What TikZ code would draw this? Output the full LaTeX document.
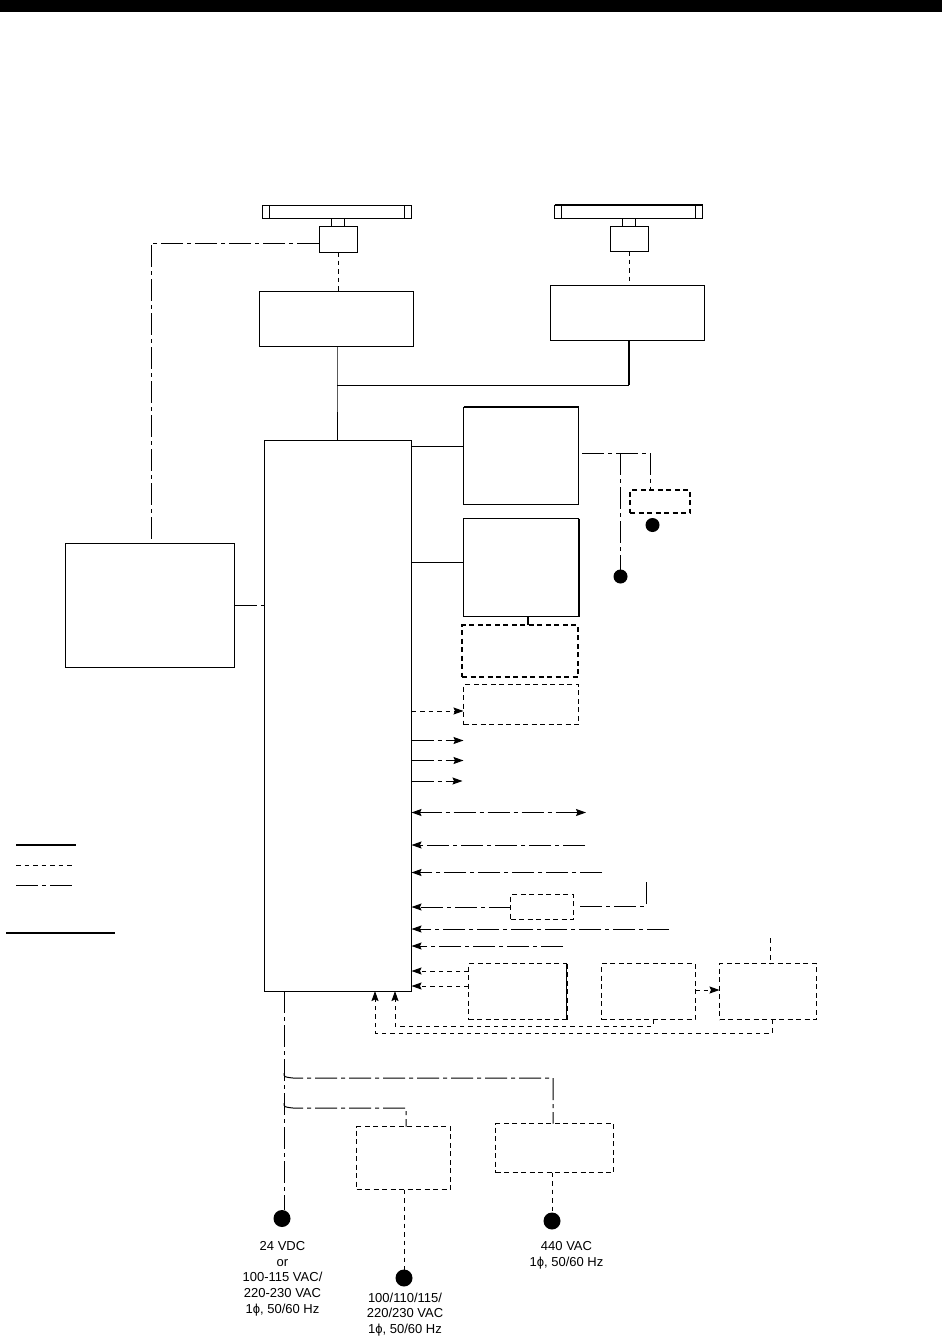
\documentclass[tikz,border=0pt]{standalone}
\usepackage{fontspec}
\setmainfont{Liberation Sans}
\usepackage{xcolor}
\usetikzlibrary{arrows.meta,calc}
\tikzset{
  solidbox/.style={draw,rectangle,line width=1pt,inner sep=0pt,outer sep=0pt},
  dashbox/.style={solidbox,dash pattern=on 5pt off 3.5pt},
  heavydash/.style={line width=2pt,dash pattern=on 5pt off 3.5pt},
  wire/.style={line width=1pt},
  dashwire/.style={line width=1pt,dash pattern=on 4.5pt off 4pt},
  chainwire/.style={line width=1pt,dash pattern=on 22pt off 4pt on 4pt off 4pt},
  tip/.style={-{Stealth[length=10pt,width=7pt,inset=1.5pt]}},
  bothtip/.style={{Stealth[length=10pt,width=7pt,inset=1.5pt]}-{Stealth[length=10pt,width=7pt,inset=1.5pt]}},
  supply/.style={circle,fill=black,inner sep=0pt,outer sep=0pt,minimum size=#1},
  rating/.style={align=center,font=\fontsize{13}{15.8}\selectfont,inner sep=0pt}
}
\begin{document}
\begin{tikzpicture}[x=1pt,y=-1pt]
  \useasboundingbox (0,0) rectangle (942,1339);
  \fill[black] (0,0) rectangle (942,12);
  % boxes in solid line
  \foreach \l/\t/\r/\b/\n in {262.5/205/411.5/218/barA,554.5/205/702.5/218/barB,
      319/226/357/252/headA,610/226/648/251/headB,259.5/291.5/413.5/346.5/rfA,550.5/285.5/704.5/340.5/rfB,
      264/440/411.5/991/proc,65.5/543.5/234.5/667.5/ctrl,463.5/407/578.5/504.5/dispA,463.5/518.5/578.5/616.5/dispB}{
    \node[solidbox,minimum width={(\r-\l)*1pt},minimum height={(\b-\t)*1pt}] (\n) at ({(\l+\r)/2},{(\t+\b)/2}) {};}
  % boxes in dashed line
  \foreach \l/\t/\r/\b/\n in {463.5/684.5/578.5/724.5/optA,510.5/894.5/573.5/919.5/optB,468.5/963.5/566.5/1019.5/optC,
      601.5/963.5/695/1019.5/optD,719.5/963.5/816.5/1019.5/optE,356.5/1126.5/450.5/1189.5/rectA,495.5/1123.5/613.5/1172.5/rectB}{
    \node[dashbox,minimum width={(\r-\l)*1pt},minimum height={(\b-\t)*1pt}] (\n) at ({(\l+\r)/2},{(\t+\b)/2}) {};}
  \node[dashbox,heavydash,minimum width=116pt,minimum height=52pt] (optH) at (520,651) {};
  \node[dashbox,line width=1.6pt,minimum width=60pt,minimum height=23pt] (optS) at (660,501.5) {};
  % antenna details
  \foreach \n in {barA,barB}{
    \draw[wire] ($(\n.north west)+(7,0)$) -- ($(\n.south west)+(7,0)$);
    \draw[wire] ($(\n.north east)+(-7,0)$) -- ($(\n.south east)+(-7,0)$);}
  \draw[line width=2pt] (barB.north west) -- (barB.north east);
  \draw[line width=2pt] (dispA.north west) -- (dispA.north east);
  \draw[line width=2pt] (dispB.north east) -- (dispB.south east);
  \draw[line width=2pt,dash pattern=on 5pt off 3.5pt] (optC.north east) -- (optC.south east);
  \draw[wire] (331.5,218) -- (331.5,226) (344,218) -- (344,226);
  \draw[wire] (622.5,218) -- (622.5,226) (635,218) -- (635,226);
  % links at the top
  \coordinate (joinA) at (337,385);
  \coordinate (joinB) at (629,385);
  \draw[dashwire] (headA.south) -- (headA.south |- rfA.north);
  \draw[dashwire] (headB.south) -- (headB.south |- rfB.north);
  \draw[wire] (rfA.south -| joinA) -- (joinA) -- (joinA |- proc.north);
  \draw[wire] (joinA) -- (joinB);
  \draw[line width=2pt] (rfB.south -| joinB) -- (joinB);
  \coordinate (ctrlTurn) at (151,243);
  \draw[chainwire] (headA.west |- ctrlTurn) -- (ctrlTurn) -- (ctrlTurn |- ctrl.north);
  \draw[chainwire] (ctrl.east) -- (proc.west |- ctrl.east);
  % displays
  \coordinate (viewA) at (proc.east |- 0,446);
  \coordinate (viewB) at (proc.east |- 0,562);
  \draw[wire] (viewA) -- (dispA.west |- viewA);
  \draw[wire] (viewB) -- (dispB.west |- viewB);
  \draw[line width=2pt] (528,616.5) -- (528,625);
  \node[supply=14pt] (feedS) at (652.5,525) {};
  \node[supply=14pt] (feedT) at (620.5,576.5) {};
  \coordinate (dispOut) at (582,453);
  \coordinate (dispTee) at (620.5,453);
  \coordinate (dispTurn) at (650.5,453);
  \draw[chainwire] (dispOut) -- (dispTurn) -- (dispTurn |- optS.north);
  \draw[chainwire] (dispTee) -- (feedT);
  % signal lines at the right of the processor
  \draw[dashwire,tip] (proc.east |- 0,711) -- (optA.west |- 0,711);
  \foreach \y/\xb/\n in {740.5/463.5/outA,760.5/463.5/outB,781/462.5/outC}{
    \coordinate (\n) at (\xb,\y);
    \draw[chainwire,tip] (proc.east |- \n) -- (\n);}
  \coordinate (linkA) at (586,812.5);
  \draw[chainwire,bothtip] (proc.east |- linkA) -- (linkA);
  \foreach \y/\xb/\n in {845/585/inA,872.5/602/inB,929/669/inC,946/563/inD}{
    \coordinate (\n) at (\xb,\y);
    \draw[chainwire,tip] (\n) -- (proc.east |- \n);}
  \draw[chainwire,tip] (optB.west |- 0,907) -- (proc.east |- 0,907);
  \coordinate (inE) at (580,906);
  \coordinate (inF) at (646,906);
  \coordinate (inG) at (646,882);
  \draw[chainwire] (inE) -- (inF) -- (inG);
  \draw[dashwire,tip] (optC.west |- 0,971) -- (proc.east |- 0,971);
  \draw[dashwire,tip] (optC.west |- 0,986) -- (proc.east |- 0,986);
  \draw[dashwire,tip] (optD.east |- 0,990) -- (optE.west |- 0,990);
  \coordinate (stubE) at (770,938);
  \draw[dashwire] (stubE) -- (stubE |- optE.north);
  \coordinate (backD) at (653,1026);
  \coordinate (backE) at (772,1033);
  \coordinate (backP) at (395,991);
  \coordinate (backQ) at (375,991);
  \draw[dashwire,tip] (backD |- optD.south) -- (backD) -- (backD -| backP) -- (backP);
  \draw[dashwire,tip] (backE |- optE.south) -- (backE) -- (backE -| backQ) -- (backQ);
  % power
  \node[supply=17pt] (mainsA) at (282,1218.5) {};
  \node[supply=17pt] (mainsB) at (404,1278) {};
  \node[supply=17pt] (mainsC) at (552,1221) {};
  \coordinate (trunk) at (284,991);
  \coordinate (trunkA) at (284,1073);
  \coordinate (trunkB) at (284,1103);
  \coordinate (turnA) at (553,1078);
  \coordinate (turnB) at (406,1108);
  \draw[chainwire] (trunk) -- (trunk |- mainsA.north);
  \draw[chainwire] (trunkA) .. controls (284,1077) .. (293,1078) -- (turnA) -- (turnA |- rectB.north);
  \draw[chainwire] (trunkB) .. controls (284,1107) .. (293,1108) -- (turnB) -- (turnB |- rectA.north);
  \draw[dashwire] (rectA.south -| mainsB) -- (mainsB);
  \draw[dashwire] (rectB.south -| mainsC) -- (mainsC);
  \node[rating,anchor=north] (textA) at (282.5,1241) {24 VDC\\or\\100-115 VAC/\\220-230 VAC\\1ϕ, 50/60 Hz};
  \node[rating,anchor=north] (textB) at (405,1292.5) {100/110/115/\\220/230 VAC\\1ϕ, 50/60 Hz};
  \node[rating,anchor=north] (textC) at (566.5,1241.5) {440 VAC\\1ϕ, 50/60 Hz};
  % legend
  \draw[line width=2pt] (16,845) -- (76,845);
  \draw[dashwire] (16,865) -- (73,865);
  \draw[chainwire] (16,885) -- (73,885);
  \draw[line width=2pt] (6,933) -- (115,933);
\end{tikzpicture}
\end{document}
